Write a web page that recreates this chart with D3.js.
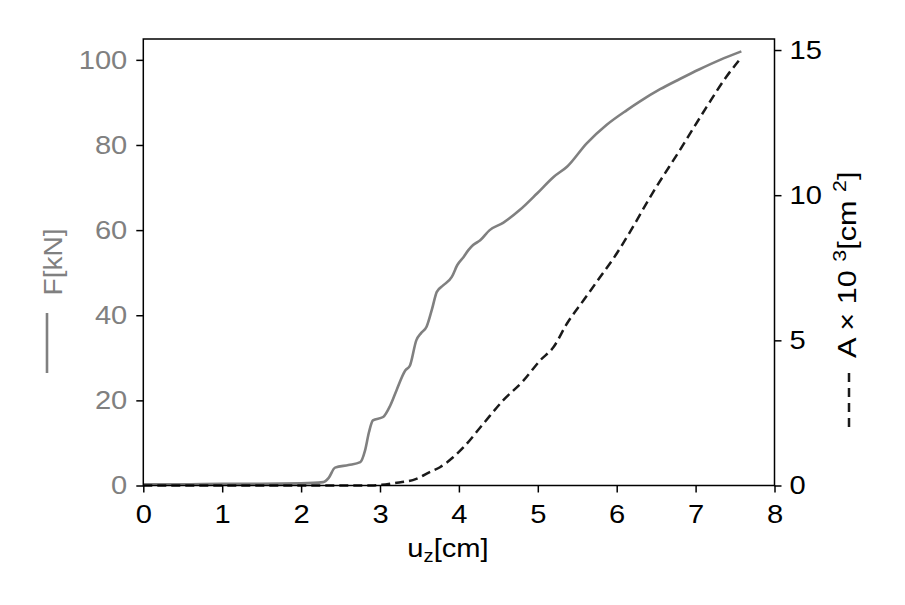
<!DOCTYPE html>
<html><head><meta charset="utf-8">
<script src="https://cdn.jsdelivr.net/npm/d3@7"></script>
<style>body{margin:0;background:#fff}svg{font-family:"Liberation Sans",Arial,sans-serif}</style>
</head><body><svg id="c" width="905" height="605"></svg>
<script>
const forceX = [0,0.5,1,1.5,2,2.28,2.35,2.43,2.6,2.75,2.81,2.86,2.91,3.04,3.13,3.21,3.32,3.38,3.46,3.52,3.59,3.66,3.72,3.8,3.91,3.98,4.06,4.12,4.18,4.27,4.39,4.56,4.77,4.99,5.2,5.37,5.62,5.87,6.13,6.3,6.55,6.8,7.05,7.31,7.58];
const forceY = [0.3,0.3,0.4,0.4,0.5,0.8,1.8,4.2,4.8,5.5,8.2,12.5,15.3,16.1,18.8,22.4,27,28.2,34.1,35.8,37.3,41.5,45.5,47,49,51.8,53.7,55.3,56.5,57.6,60,61.7,64.7,68.6,72.5,74.9,80.4,84.7,88.2,90.3,93.1,95.5,97.8,100,102];
const areaX = [0,1,2,2.9,3.0,3.17,3.46,3.63,3.76,3.93,4.06,4.31,4.56,4.82,5.03,5.2,5.37,5.58,5.79,6.0,6.13,6.46,6.8,7.14,7.39,7.57];
const areaY = [0,0,0,0,0.02,0.08,0.23,0.46,0.63,0.98,1.32,2.13,2.93,3.62,4.31,4.77,5.58,6.38,7.18,7.99,8.56,10.1,11.55,13.04,14.08,14.71];
const xTicks = [0,1,2,3,4,5,6,7,8];
const fTicks = [0,20,40,60,80,100];
const aTicks = [0,5,10,15];

const svg = d3.select("#c");
const L=143.3, R=774.5, T=39, B=485.5;
const x = d3.scaleLinear().domain([0,8]).range([L,R]);
const yF = d3.scaleLinear().domain([0,104.9]).range([B,T]);
const yA = d3.scaleLinear().domain([0,15.38]).range([B,T]);
const fs = 26, k = 1.12, gray="#808080", dark="#1a1a1a";

// lines
svg.append("path").datum(forceX.map((v,i)=>[v,forceY[i]]))
  .attr("fill","none").attr("stroke",gray).attr("stroke-width",2.6).attr("stroke-linejoin","round")
  .attr("d", d3.line().curve(d3.curveMonotoneX).x(d=>x(d[0])).y(d=>yF(d[1])));
svg.append("path").datum(areaX.map((v,i)=>[v,areaY[i]]))
  .attr("fill","none").attr("stroke",dark).attr("stroke-width",2.5).attr("stroke-dasharray","9,5")
  .attr("d", d3.line().curve(d3.curveMonotoneX).x(d=>x(d[0])).y(d=>yA(d[1])));

// axes
const gx = svg.append("g").attr("transform",`translate(0,${B})`)
  .call(d3.axisBottom(x).tickValues(xTicks).tickSize(7).tickPadding(12));
const gl = svg.append("g").attr("transform",`translate(${L},0)`)
  .call(d3.axisLeft(yF).tickValues(fTicks).tickSize(7).tickPadding(9));
const gr = svg.append("g").attr("transform",`translate(${R},0)`)
  .call(d3.axisRight(yA).tickValues(aTicks).tickSize(7).tickPadding(8));
[gx,gl,gr].forEach(g=>{
  g.selectAll("path").remove();
  g.selectAll("line").attr("stroke","#000").attr("stroke-width",1.5);
  g.selectAll("text").attr("font-size",fs).attr("font-family","Liberation Sans, Arial, sans-serif").attr("fill","#000")
    .each(function(){ const w=this.getComputedTextLength(); d3.select(this).attr("textLength",w*k).attr("lengthAdjust","spacingAndGlyphs"); });
});
gl.selectAll("text").attr("fill",gray);
// frame
svg.append("rect").attr("x",L).attr("y",T).attr("width",R-L).attr("height",B-T)
  .attr("fill","none").attr("stroke","#000").attr("stroke-width",1.5);

// x label
const xl = svg.append("g").attr("transform","translate(448,557) scale(1.12,1)")
  .append("text").attr("text-anchor","middle").attr("font-size",fs);
xl.append("tspan").text("u");
xl.append("tspan").attr("font-size",18).attr("dy",5).text("z");
xl.append("tspan").attr("dy",-5).text("[cm]");

// left label
svg.append("line").attr("x1",47).attr("x2",47).attr("y1",313).attr("y2",373).attr("stroke",gray).attr("stroke-width",2.6);
svg.append("g").attr("transform","translate(62,262) rotate(-90) scale(1.08,1)")
  .append("text").attr("text-anchor","middle").attr("font-size",fs).attr("fill",gray).text("F[kN]");

// right label
svg.append("line").attr("x1",849).attr("x2",849).attr("y1",373).attr("y2",428).attr("stroke",dark).attr("stroke-width",2.5).attr("stroke-dasharray","9,6");
const rl = svg.append("g").attr("transform","translate(856,358) rotate(-90) scale(1.18,1)")
  .append("text").attr("text-anchor","start").attr("font-size",fs).attr("fill","#000");
rl.append("tspan").text("A \u00D7 10 ");
rl.append("tspan").attr("font-size",18).attr("dy",-10).text("3");
rl.append("tspan").attr("dy",10).text("[cm ");
rl.append("tspan").attr("font-size",18).attr("dy",-10).text("2");
rl.append("tspan").attr("dy",10).text("]");
</script></body></html>
